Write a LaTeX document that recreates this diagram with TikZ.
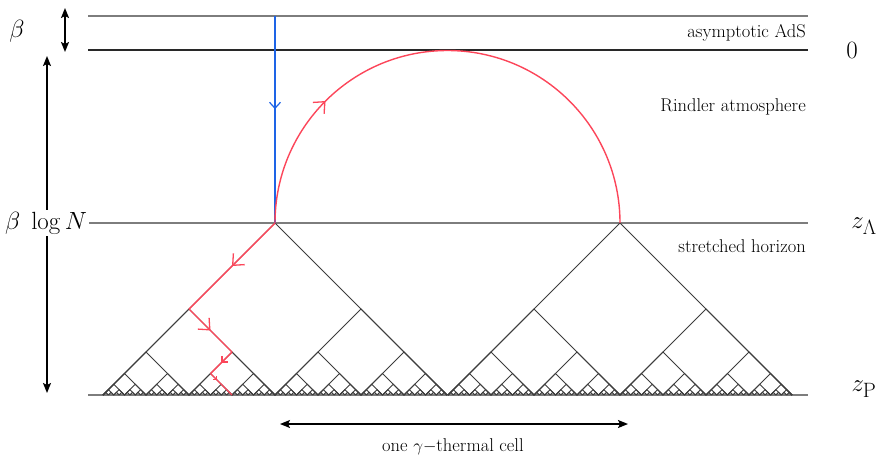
\documentclass[tikz,border=0pt]{standalone}
\usetikzlibrary{arrows.meta,decorations.markings}
\definecolor{redpath}{RGB}{252,70,90}
\definecolor{bluepath}{RGB}{30,100,230}
\definecolor{grayline}{RGB}{125,125,125}
\definecolor{darkline}{RGB}{40,40,40}
\definecolor{treegray}{RGB}{60,60,60}
\begin{document}
\begin{tikzpicture}[x=1pt,y=-1pt,
  hline/.style={line width=1.7pt,color=grayline},
  hlinedark/.style={line width=1.4pt,color=darkline},
  treeline/.style={line width=1pt,color=treegray},
  redline/.style={line width=1.4pt,color=redpath},
  blueline/.style={line width=1.2pt,color=bluepath},
  dimarrow/.style={line width=1.5pt,black,{Stealth[length=10pt,width=8pt,inset=2pt]}-{Stealth[length=10pt,width=8pt,inset=2pt]}},
  bigarrow/.style={postaction={decorate},decoration={markings,mark=at position #1 with {\arrow{Straight Barb[length=9pt,width=16pt,line width=1.3pt]}}}},
  bluearrow/.style={postaction={decorate},decoration={markings,mark=at position #1 with {\arrow{Straight Barb[length=6pt,width=11pt,line width=1.2pt]}}}},
  medarrow/.style={postaction={decorate},decoration={markings,mark=at position #1 with {\arrow{Straight Barb[length=4pt,width=8pt,line width=1.3pt]}}}},
  tinyarrow/.style={postaction={decorate},decoration={markings,mark=at position #1 with {\arrow{Straight Barb[length=2.5pt,width=5pt,line width=1.2pt]}}}},
  lab/.style={font=\fontsize{18.5}{22}\selectfont,inner sep=0pt},
  mlab/.style={font=\fontsize{25}{30}\selectfont,inner sep=0pt},
  zlab/.style={font=\fontsize{28}{32}\selectfont,inner sep=0pt}]
\useasboundingbox (0,0) rectangle (883,464);

% horizontal levels
\coordinate (L0l) at (88,16);  \coordinate (L0r) at (808,16);
\coordinate (L1l) at (88,50);  \coordinate (L1r) at (808,50);
\coordinate (L2l) at (88,223); \coordinate (L2r) at (808,223);
\coordinate (L3l) at (88,395); \coordinate (L3r) at (808,395);
\draw[hline] (L0l) -- (L0r);
\draw[hlinedark] (L1l) -- (L1r);
\draw[hline] (L2l) -- (L2r);
\draw[hline] (L3l) -- (L3r);

% trees
\foreach \k in {0,...,6}{
  \pgfmathsetmacro{\hh}{172/2^\k}
  \pgfmathtruncatemacro{\nn}{2^\k-1}
  \foreach \j in {0,...,\nn}{
    \foreach \lx in {103,448}{
      \pgfmathsetmacro{\xa}{\lx+\hh*(2*\j+1)}
      \draw[treeline] (\xa-\hh,395) -- (\xa,395-\hh) -- (\xa+\hh,395);
    }
  }
}

% key points
\coordinate (A) at (275,223);
\coordinate (B) at (620,223);
\coordinate (T) at (275,16);
\coordinate (R1) at (189,309);
\coordinate (R2) at (232,352);
\coordinate (R3) at (210.5,373.5);
\coordinate (R4) at (232,395);

% blue infalling ray
\draw[blueline,bluearrow=0.45] (T) -- (A);

% red semicircle
\draw[redline,bigarrow=0.25] (A) arc[start angle=180,end angle=360,radius=172.5];

% red path down the tree
\draw[redline,bigarrow=0.5] (A) -- (R1);
\draw[redline,bigarrow=0.5] (R1) -- (R2);
\draw[redline,medarrow=0.5] (R2) -- (R3);
\draw[redline,tinyarrow=0.3] (R3) -- (R4);

% dimension arrows
\coordinate (b1) at (65,8);   \coordinate (b2) at (65,52);
\coordinate (n1) at (47,56);  \coordinate (n2) at (47,393);
\coordinate (c1) at (280,424); \coordinate (c2) at (628,424);
\draw[dimarrow] (b1) -- (b2);
\draw[dimarrow] (n1) -- (n2);
\draw[dimarrow] (c1) -- (c2);

% labels
\node[mlab] (beta) at (17,31) {$\beta$};
\node[mlab,fill=white,inner sep=2pt] (blogN) at (46,223) {$\beta\;\log N$};
\node[lab,anchor=east] (ads) at (806,33) {asymptotic AdS};
\node[mlab] (zero) at (852,50) {$0$};
\node[lab,anchor=east] (rind) at (806,107) {Rindler atmosphere};
\node[zlab] (zL) at (864,226) {$z_\Lambda$};
\node[lab,anchor=east] (stret) at (806,246) {stretched horizon};
\node[zlab] (zP) at (864,389) {$z_{\rm P}$};
\node[lab] (cell) at (453,447) {one $\gamma{-}$thermal cell};
\end{tikzpicture}
\end{document}
